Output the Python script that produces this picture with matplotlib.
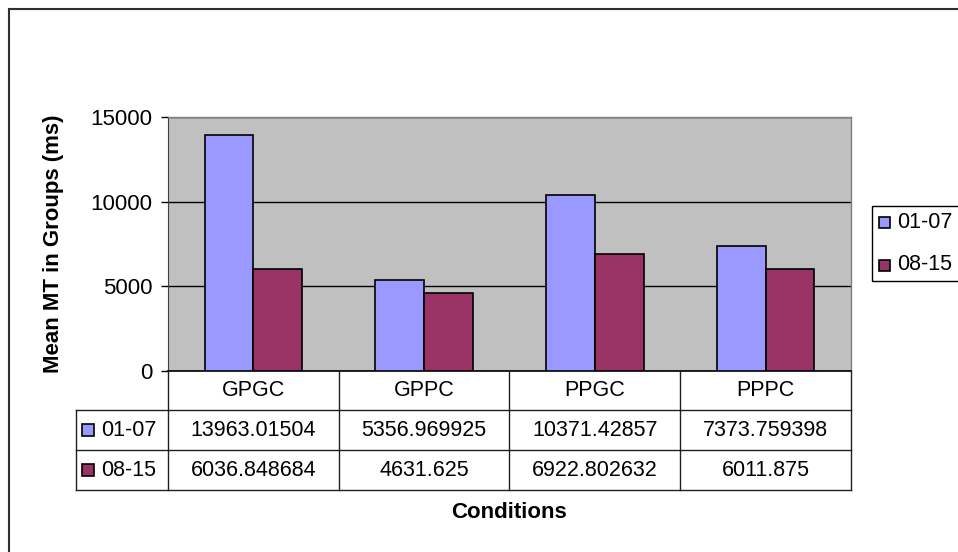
import matplotlib
matplotlib.use("Agg")
import matplotlib.pyplot as plt
from matplotlib.patches import Rectangle
from matplotlib.lines import Line2D
import numpy as np

plt.rcParams['font.family'] = ['Liberation Sans', 'DejaVu Sans']

conditions = ["GPGC", "GPPC", "PPGC", "PPPC"]
series_names = ["01-07", "08-15"]
early = [13963.01504, 5356.969925, 10371.42857, 7373.759398]
late = [6036.848684, 4631.625, 6922.802632, 6011.875]
y_ticks = [0, 5000, 10000, 15000]
colors = ["#9999FF", "#993366"]

FS = 15.5
W, H = 958, 552
fig = plt.figure(figsize=(W / 100, H / 100), dpi=100)

def fx(px):
    return px / W

def fy(py):
    return 1 - py / H

# plot area in pixel terms
L, R, T, B = 168, 851, 117, 371
ax = fig.add_axes([fx(L), fy(B), fx(R) - fx(L), fy(T) - fy(B)])
ax.set_facecolor("#C0C0C0")

x = np.arange(len(conditions))
bw = 2 / 7
for i, (vals, c) in enumerate(zip([early, late], colors)):
    ax.bar(x + (i - 0.5) * bw, vals, width=bw, color=c, edgecolor="black",
           linewidth=1.2, zorder=3)

ax.set_xlim(-0.5, len(conditions) - 0.5)
ax.set_ylim(0, 15000)
ax.set_yticks(y_ticks)
ax.set_yticklabels([str(t) for t in y_ticks], fontsize=FS + 0.5)
ax.set_xticks([])
ax.tick_params(axis="y", direction="out", length=5, width=1, pad=6, color="black")
ax.yaxis.grid(True, color="black", linewidth=1, zorder=1)
ax.set_axisbelow(True)
for s in ["top", "right"]:
    ax.spines[s].set_color("#808080")
    ax.spines[s].set_linewidth(1)
ax.spines["left"].set_color("#404040")
ax.spines["bottom"].set_color("black")
ax.spines["bottom"].set_linewidth(1.2)

ax.set_ylabel("Mean MT in Groups (ms)", fontsize=16, fontweight="bold", labelpad=19)

# data table below the plot
line_kw = dict(color="#202020", linewidth=1, transform=fig.transFigure)
col_edges = [L + (R - L) * k / len(conditions) for k in range(len(conditions) + 1)]
TL = 76
row_y = [B, 410, 450, 490]
for xe in col_edges:
    fig.add_artist(Line2D([fx(xe), fx(xe)], [fy(B), fy(490)], **line_kw))
fig.add_artist(Line2D([fx(TL), fx(TL)], [fy(410), fy(490)], **line_kw))
for yy in row_y[1:]:
    fig.add_artist(Line2D([fx(TL), fx(R)], [fy(yy), fy(yy)], **line_kw))

for k, name in enumerate(conditions):
    cx = (col_edges[k] + col_edges[k + 1]) / 2
    fig.text(fx(cx), fy((row_y[0] + row_y[1]) / 2), name, fontsize=FS,
             ha="center", va="center")

for r, (vals, name, c) in enumerate(zip([early, late], series_names, colors)):
    cy = (row_y[r + 1] + row_y[r + 2]) / 2
    fig.add_artist(Rectangle((fx(82), fy(cy + 6)), fx(12), 12 / H, facecolor=c,
                             edgecolor="black", linewidth=1.2,
                             transform=fig.transFigure))
    fig.text(fx(101), fy(cy), name, fontsize=FS, ha="left", va="center")
    for k, v in enumerate(vals):
        cx = (col_edges[k] + col_edges[k + 1]) / 2
        fig.text(fx(cx), fy(cy), str(v), fontsize=FS, ha="center", va="center")

fig.text(fx(509), fy(513), "Conditions", fontsize=16, fontweight="bold",
         ha="center", va="center")

# legend box at the right
fig.add_artist(Rectangle((fx(872), fy(281)), fx(100), (281 - 206) / H,
                         facecolor="white", edgecolor="black", linewidth=1,
                         transform=fig.transFigure))
for r, (name, c) in enumerate(zip(series_names, colors)):
    cy = 222 + r * 43
    fig.add_artist(Rectangle((fx(879), fy(cy + 5.5)), fx(11), 11 / H, facecolor=c,
                             edgecolor="black", linewidth=1.2,
                             transform=fig.transFigure))
    fig.text(fx(897), fy(cy), name, fontsize=FS, ha="left", va="center")

# chart frame
fig.add_artist(Line2D([fx(9), fx(9)], [fy(9), 0], color="#303030", linewidth=1.5,
                      transform=fig.transFigure))
fig.add_artist(Line2D([fx(9), 1], [fy(9), fy(9)], color="#303030", linewidth=1.5,
                      transform=fig.transFigure))

fig.savefig("out.png", dpi=100, facecolor="white")
